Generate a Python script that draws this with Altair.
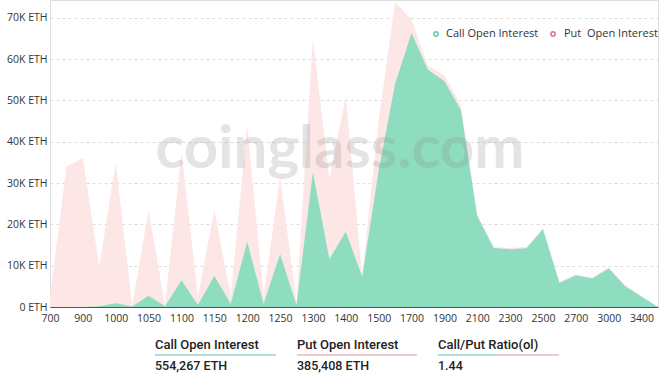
import altair as alt
import pandas as pd

strikes = ["700", "800", "900", "950", "1000", "1025", "1050", "1075", "1100", "1125",
           "1150", "1175", "1200", "1225", "1250", "1275", "1300", "1350", "1400", "1450",
           "1500", "1600", "1700", "1800", "1900", "2000", "2100", "2200", "2300", "2400",
           "2500", "2600", "2700", "2800", "3000", "3200", "3400", "3600"]

# open interest, thousands of ETH
call_oi = [0, 0, 0, 0.2, 0.9, 0.1, 2.7, 0.2, 6.5, 0.5,
           7.5, 0.8, 15.8, 0.8, 12.8, 0.5, 32.6, 11.6, 18.2, 7.3,
           33.0, 54.0, 66.3, 57.4, 54.7, 47.7, 22.0, 14.3, 14.0, 14.2,
           18.8, 5.8, 7.6, 6.9, 9.3, 5.0, 2.5, 0]
put_oi = [2.5, 34.0, 36.0, 9.5, 34.1, 0.2, 20.8, 0.1, 31.0, 2.0,
          16.0, 1.7, 28.2, 1.7, 18.7, 0.5, 32.4, 19.4, 32.8, 0.2,
          12.0, 19.8, 3.2, 1.0, 1.3, 1.3, 0.3, 0.3, 0.3, 0.3,
          0.3, 0.3, 0.3, 0.3, 0.3, 0.3, 0.2, 0]

y_ticks = [0, 10000, 20000, 30000, 40000, 50000, 60000, 70000]
x_labels = strikes[::2]

summary_titles = ["Call Open Interest", "Put Open Interest", "Call/Put Ratio(ol)"]
summary_values = ["554,267 ETH", "385,408 ETH", "1.44"]
legend_names = ["Call Open Interest", "Put\u00a0 Open Interest"]

df = pd.DataFrame({
    "strike": strikes,
    "call": [v * 1000 for v in call_oi],
    "total": [(c + p) * 1000 for c, p in zip(call_oi, put_oi)],
})

W, H = 608, 307
GREEN = "#8FDDC0"
PINK = "#FCE6E6"

x_enc = alt.X("strike:O", sort=strikes, title=None,
              scale=alt.Scale(type="point", padding=0),
              axis=alt.Axis(values=x_labels, labelAngle=0, ticks=False,
                            domainColor="#555555", domainWidth=1.2,
                            labelFont="Open Sans", labelFontSize=10.5,
                            labelColor="#333333", labelPadding=6, grid=False))
y_axis = alt.Axis(values=y_ticks, ticks=False, domain=False,
                  labelExpr="datum.value == 0 ? '0 ETH' : (datum.value/1000) + 'K ETH'",
                  labelFont="Open Sans", labelFontSize=10.5, labelColor="#333333",
                  labelPadding=3, grid=True, gridDash=[3, 3], gridColor="#DDDDDD")
y_scale = alt.Scale(domain=[0, 74300], nice=False, zero=True)

pink = alt.Chart(df).mark_area(color=PINK, interpolate="linear").encode(
    x=x_enc,
    y=alt.Y("total:Q", title=None, scale=y_scale, axis=y_axis),
)
green = alt.Chart(df).mark_area(color=GREEN, interpolate="linear").encode(
    x=x_enc,
    y=alt.Y("call:Q", title=None, scale=y_scale, axis=y_axis),
)

one = pd.DataFrame({"k": [0]})


def txt(s, x, y, size=11, color="#333333", weight="normal", font="Open Sans",
        baseline="middle", align="left", opacity=1.0):
    return alt.Chart(one).mark_text(
        text=s, fontSize=size, color=color, fontWeight=weight, font=font,
        baseline=baseline, align=align, opacity=opacity
    ).encode(x=alt.value(x), y=alt.value(y))


def rule(x1, x2, y, color):
    return alt.Chart(one).mark_rule(color=color, strokeWidth=1.2).encode(
        x=alt.value(x1), x2=alt.value(x2), y=alt.value(y))


def dot(x, y, color):
    return alt.Chart(one).mark_point(shape="circle", size=18, filled=False,
                                     color=color, strokeWidth=1.6).encode(
        x=alt.value(x), y=alt.value(y))


watermark = txt("coinglass.com", 290, 150, size=60, color="#888888", weight="bold",
                font="Lato", align="center", opacity=0.22)

layers = [pink, green, watermark,
          dot(386, 34, "#2DB58C"), txt(legend_names[0], 396, 34, size=11),
          dot(503, 34, "#D2475F"), txt(legend_names[1], 514, 34, size=11)]

ox = [105, 247, 388]
for i in range(3):
    layers.append(txt(summary_titles[i], ox[i], 349, size=13, color="#222222",
                      weight=500, font="Roboto", baseline="alphabetic"))
    layers.append(txt(summary_values[i], ox[i], 370, size=12.5, color="#222222",
                      weight=500, font="Roboto", baseline="alphabetic"))
layers.append(rule(105, 226, 355, "#5CC4B4"))
layers.append(rule(247, 367, 355, "#E3939B"))
layers.append(rule(388, 448, 355, "#5CC4B4"))
layers.append(rule(448, 509, 355, "#E3939B"))

chart = alt.layer(*layers).properties(
    width=W, height=H,
    autosize=alt.AutoSizeParams(type="none"),
    padding={"left": 50, "top": 0, "right": 13, "bottom": 68},
).configure_view(stroke=None).configure(background="white")

chart.save("out.html", embed_options={"renderer": "svg", "actions": False})
